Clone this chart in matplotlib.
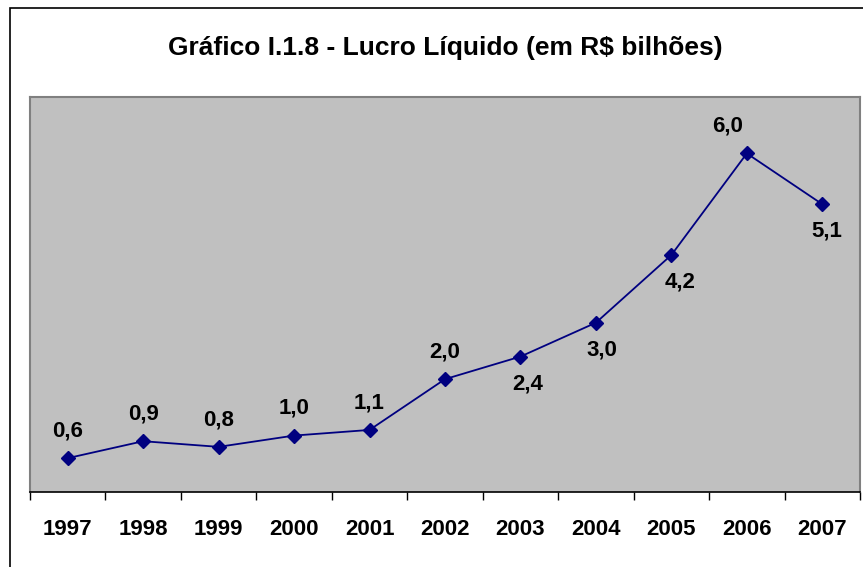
import matplotlib
matplotlib.use("Agg")
import matplotlib.pyplot as plt
import matplotlib.patches as mpatches
import numpy as np

plt.rcParams["font.family"] = ["Liberation Sans", "DejaVu Sans"]
plt.rcParams["font.weight"] = "bold"

years = ["1997", "1998", "1999", "2000", "2001", "2002",
         "2003", "2004", "2005", "2006", "2007"]
lucro = [0.6, 0.9, 0.8, 1.0, 1.1, 2.0, 2.4, 3.0, 4.2, 6.0, 5.1]
# label placement: +1 above the point, -1 below (as in the original chart)
label_side = [1, 1, 1, 1, 1, 1, -1, -1, -1, 1, -1]
label_dx = [0, 0, 0, 0, 0, 0, 5, 4, 6, -14, 3]

fig = plt.figure(figsize=(8.63, 5.67), dpi=100)
fig.patch.set_facecolor("white")

# outer frame of the chart object
fig.add_artist(mpatches.Rectangle((10 / 863, -0.1), 1.0, 1 - 8 / 567 + 0.1,
                                  transform=fig.transFigure, fill=False,
                                  edgecolor="black", linewidth=1.2))

ax = fig.add_axes([30 / 863, 1 - 492 / 567, 830 / 863, 395 / 567])
ax.set_facecolor("#c0c0c0")

x = np.arange(len(years))
ax.plot(x, lucro, color="#000080", linewidth=1.3, marker="D",
        markersize=7, markerfacecolor="#000080", markeredgecolor="#000080")

for xi, v, side, dx in zip(x, lucro, label_side, label_dx):
    ax.annotate(f"{v:.1f}".replace(".", ","), (xi, v),
                xytext=(dx, 19.5 * side), textcoords="offset points",
                ha="center", va="center", fontsize=16, fontweight="bold")

ax.set_xlim(-0.5, len(years) - 0.5)
ax.set_ylim(0, 7)
ax.set_yticks([])
ax.set_xticks(x)
ax.set_xticklabels(years, fontsize=16, fontweight="bold")
ax.tick_params(axis="x", which="major", length=0, pad=19.5)
ax.set_xticks(np.arange(len(years) + 1) - 0.5, minor=True)
ax.tick_params(axis="x", which="minor", length=5.5, width=1, color="black",
               direction="out")

for side in ("top", "left", "right"):
    ax.spines[side].set_color("#808080")
    ax.spines[side].set_linewidth(1.5)
ax.spines["bottom"].set_color("black")
ax.spines["bottom"].set_linewidth(1.2)

fig.text((30 + 860) / 2 / 863, 1 - 48 / 567,
         "Gráfico I.1.8 - Lucro Líquido (em R$ bilhões)",
         ha="center", va="center", fontsize=19, fontweight="bold")

fig.savefig("out.png", dpi=100)
